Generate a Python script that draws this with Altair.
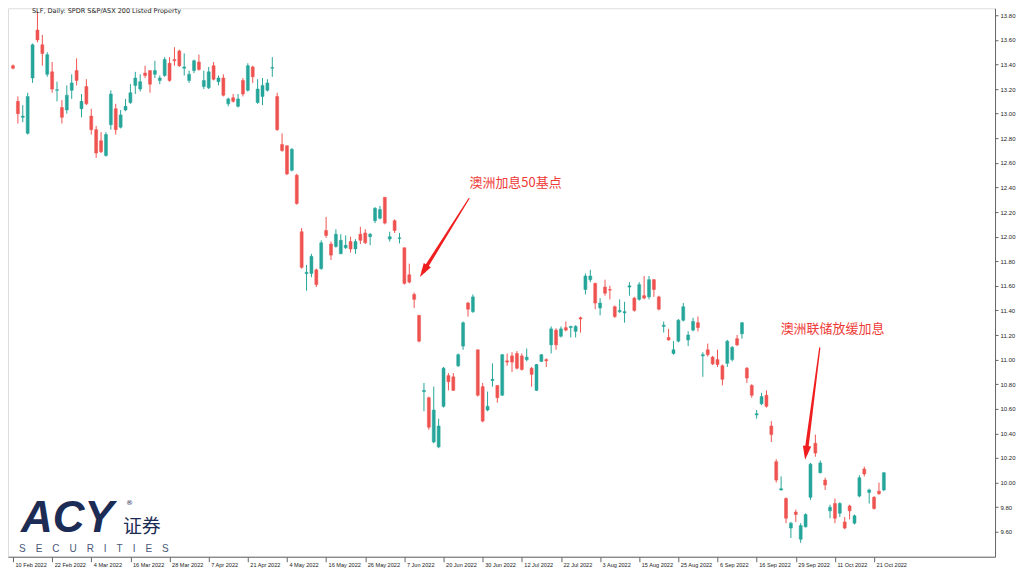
import altair as alt
import pandas as pd

# ---- OHLC values (trading-day index 0 = 10 Feb 2022) ----
opens = [13.39,
 13.10, 12.97, 12.84, 13.29, 13.68, 13.56, 13.32, 13.34, 13.19, 13.05,
 13.03, 13.19, 13.35, 13.04, 13.22, 12.98, 12.87, 12.78, 12.66, 12.91,
 13.04, 12.89, 13.03, 13.09, 13.23, 13.20, 13.33, 13.35, 13.32, 13.27,
 13.31, 13.41, 13.44, 13.51, 13.37, 13.27, 13.35, 13.42, 13.22, 13.21,
 13.39, 13.26, 13.29, 13.08, 13.13, 13.06, 13.27, 13.19, 13.38, 13.09,
 13.14, 13.19, 13.37, 13.14, 12.75, 12.74, 12.54, 12.50, 12.04, 11.70,
 11.70, 11.73, 11.74, 12.05, 11.94, 11.92, 11.86, 11.91, 11.96, 11.90,
 12.02, 12.03, 12.00, 12.13, 12.15, 12.32, 11.98, 12.13, 11.985, 11.91,
 11.69, 11.53, 11.36, 10.74, 10.69, 10.33, 10.29, 10.62, 10.87, 10.86,
 10.95, 11.11, 11.46, 11.39, 11.08, 10.78, 10.59, 10.83, 10.79, 10.71,
 10.99, 11.03, 11.05, 11.03, 11.00, 10.93, 10.75, 10.985, 11.00, 11.12,
 11.24, 11.19, 11.26, 11.26, 11.23, 11.34, 11.57, 11.65, 11.62, 11.42,
 11.59, 11.57, 11.43, 11.39, 11.38, 11.59, 11.50, 11.49, 11.52, 11.51,
 11.65, 11.51, 11.27, 11.18, 11.05, 11.15, 11.32, 11.16, 11.24, 11.30,
 11.03, 11.08, 11.02, 11.00, 10.95, 10.97, 11.00, 11.17, 11.21, 10.93,
 10.79, 10.55, 10.64, 10.71, 10.46, 10.17, 9.94, 9.87, 9.63, 9.76,
 9.54, 9.64, 9.88, 10.32, 10.08, 10.02, 9.77, 9.83, 9.75, 9.68,
 9.81, 9.67, 9.89, 10.11, 9.92, 9.88, 9.93, 9.94]
highs = [13.40,
 13.14, 13.07, 13.17, 13.57, 13.83, 13.64, 13.50, 13.42, 13.26, 13.11,
 13.23, 13.32, 13.45, 13.16, 13.28, 13.04, 12.90, 12.85, 12.85, 13.19,
 13.08, 13.03, 13.12, 13.24, 13.34, 13.32, 13.39, 13.35, 13.43, 13.31,
 13.46, 13.46, 13.54, 13.52, 13.49, 13.35, 13.44, 13.48, 13.35, 13.38,
 13.42, 13.31, 13.32, 13.13, 13.16, 13.16, 13.29, 13.41, 13.39, 13.28,
 13.29, 13.28, 13.46, 13.17, 12.84, 12.74, 12.72, 12.51, 12.07, 11.77,
 11.86, 11.74, 11.97, 12.16, 11.96, 12.06, 12.02, 12.01, 12.00, 11.98,
 12.08, 12.06, 12.03, 12.24, 12.25, 12.32, 12.04, 12.14, 12.03, 11.91,
 11.78, 11.545, 11.36, 10.81, 10.70, 10.78, 10.52, 10.94, 10.89, 10.89,
 11.05, 11.31, 11.47, 11.53, 11.08, 10.81, 10.74, 10.97, 10.79, 11.045,
 11.05, 11.06, 11.07, 11.05, 11.09, 10.94, 10.965, 11.045, 11.01, 11.27,
 11.255, 11.27, 11.31, 11.275, 11.28, 11.35, 11.70, 11.73, 11.625, 11.50,
 11.65, 11.60, 11.44, 11.49, 11.47, 11.63, 11.51, 11.63, 11.68, 11.68,
 11.655, 11.52, 11.31, 11.25, 11.15, 11.33, 11.46, 11.23, 11.34, 11.35,
 11.06, 11.13, 11.03, 11.08, 10.96, 11.16, 11.11, 11.20, 11.305, 10.94,
 10.80, 10.59, 10.73, 10.75, 10.50, 10.19, 10.05, 9.88, 9.68, 9.78,
 9.67, 9.75, 10.16, 10.39, 10.18, 10.04, 9.82, 9.87, 9.84, 9.72,
 9.82, 9.74, 10.06, 10.13, 9.95, 9.89, 10.00, 10.085]
lows = [13.36,
 12.92, 12.93, 12.83, 13.25, 13.58, 13.39, 13.30, 13.17, 13.10, 12.92,
 13.00, 13.12, 13.23, 12.97, 13.07, 12.83, 12.64, 12.68, 12.65, 12.87,
 12.83, 12.88, 13.02, 13.08, 13.16, 13.18, 13.29, 13.17, 13.29, 13.24,
 13.30, 13.26, 13.39, 13.38, 13.31, 13.25, 13.33, 13.35, 13.20, 13.20,
 13.27, 13.23, 13.14, 13.06, 13.09, 13.05, 13.14, 13.18, 13.25, 13.08,
 13.07, 13.18, 13.30, 12.86, 12.69, 12.50, 12.53, 12.26, 11.74, 11.56,
 11.67, 11.59, 11.73, 11.99, 11.81, 11.91, 11.86, 11.90, 11.87, 11.86,
 11.94, 11.94, 11.93, 12.11, 12.14, 12.10, 11.96, 12.03, 11.945, 11.61,
 11.62, 11.42, 11.14, 10.58, 10.43, 10.32, 10.28, 10.61, 10.75, 10.745,
 10.94, 11.08, 11.35, 11.38, 10.70, 10.49, 10.58, 10.78, 10.65, 10.705,
 10.95, 10.90, 10.92, 10.91, 10.985, 10.78, 10.745, 10.98, 10.94, 11.05,
 11.08, 11.18, 11.23, 11.18, 11.18, 11.22, 11.53, 11.63, 11.41, 11.36,
 11.52, 11.49, 11.34, 11.38, 11.30, 11.52, 11.39, 11.48, 11.49, 11.49,
 11.51, 11.40, 11.22, 11.155, 11.04, 11.14, 11.31, 11.11, 11.23, 11.23,
 10.86, 11.025, 10.955, 10.94, 10.79, 10.94, 10.985, 11.11, 11.17, 10.81,
 10.69, 10.52, 10.63, 10.61, 10.33, 10.00, 9.935, 9.67, 9.55, 9.68,
 9.51, 9.635, 9.86, 10.21, 10.075, 9.94, 9.71, 9.67, 9.72, 9.62,
 9.70, 9.66, 9.88, 10.05, 9.83, 9.78, 9.90, 9.93]
closes = [13.37,
 13.00, 12.98, 13.14, 13.56, 13.60, 13.49, 13.48, 13.20, 13.195, 12.97,
 13.15, 13.25, 13.27, 13.10, 13.08, 12.87, 12.68, 12.69, 12.83, 13.16,
 12.87, 12.99, 13.06, 13.17, 13.29, 13.26, 13.31, 13.24, 13.35, 13.29,
 13.44, 13.27, 13.43, 13.39, 13.38, 13.32, 13.43, 13.36, 13.27, 13.34,
 13.28, 13.29, 13.15, 13.12, 13.10, 13.12, 13.16, 13.39, 13.30, 13.20,
 13.23, 13.25, 13.375, 12.87, 12.70, 12.51, 12.71, 12.27, 11.75, 11.71,
 11.84, 11.61, 11.95, 12.01, 11.85, 12.02, 11.97, 11.93, 11.90, 11.96,
 11.97, 11.95, 12.02, 12.23, 12.22, 12.11, 12.00, 12.05, 11.99, 11.62,
 11.63, 11.49, 11.15, 10.75, 10.45, 10.59, 10.46, 10.93, 10.82, 10.75,
 11.04, 11.30, 11.41, 11.51, 10.71, 10.50, 10.62, 10.84, 10.69, 11.04,
 10.98, 10.98, 10.93, 10.92, 11.02, 10.88, 10.96, 11.04, 10.99, 11.25,
 11.12, 11.25, 11.24, 11.27, 11.27, 11.33, 11.68, 11.68, 11.46, 11.46,
 11.54, 11.565, 11.35, 11.40, 11.39, 11.60, 11.40, 11.61, 11.50, 11.65,
 11.57, 11.41, 11.28, 11.16, 11.08, 11.32, 11.43, 11.20, 11.31, 11.26,
 11.04, 11.04, 10.965, 10.96, 10.84, 11.15, 11.10, 11.12, 11.30, 10.85,
 10.71, 10.56, 10.70, 10.62, 10.39, 10.02, 9.95, 9.71, 9.67, 9.74,
 9.65, 9.74, 10.15, 10.24, 10.16, 9.98, 9.80, 9.71, 9.83, 9.63,
 9.77, 9.73, 10.04, 10.07, 9.94, 9.79, 9.91, 10.08]

tick_labels = ["10 Feb 2022", "22 Feb 2022", "4 Mar 2022", "16 Mar 2022", "28 Mar 2022",
               "7 Apr 2022", "21 Apr 2022", "4 May 2022", "16 May 2022", "26 May 2022",
               "7 Jun 2022", "20 Jun 2022", "30 Jun 2022", "12 Jul 2022", "22 Jul 2022",
               "3 Aug 2022", "15 Aug 2022", "25 Aug 2022", "6 Sep 2022", "16 Sep 2022",
               "29 Sep 2022", "11 Oct 2022", "21 Oct 2022"]
price_ticks = [9.6, 9.8, 10.0, 10.2, 10.4, 10.6, 10.8, 11.0, 11.2, 11.4, 11.6,
               11.8, 12.0, 12.2, 12.4, 12.6, 12.8, 13.0, 13.2, 13.4, 13.6, 13.8]

# annotations (index, price)
note_text = ["澳洲加息50基点", "澳洲联储放缓加息"]
note_idx = [93.3, 156.9]
note_price = [12.44, 11.25]
arrow_tail_idx = [93.2, 164.9]
arrow_tail_price = [12.31, 11.095]
arrow_head_idx = [83.93, 162.1]
arrow_head_price = [11.72, 10.241]
arrow_angle = [212, 188]

df = pd.DataFrame({"i": list(range(len(opens))), "o": opens, "h": highs,
                   "l": lows, "c": closes})
df["dir"] = ["up" if c >= o else "down" for o, c in zip(df.o, df.c)]

W, H = 988, 549
xs = alt.Scale(domain=[0, 199.7], nice=False, zero=False)
ys = alt.Scale(domain=[9.397, 13.857], nice=False, zero=False)
col = alt.Color("dir:N", scale=alt.Scale(domain=["up", "down"],
                                         range=["#26a69a", "#ef5350"]), legend=None)

label_expr = "[" + ",".join("'%s'" % s for s in tick_labels) + "][round(datum.value/8)]"
x_axis = alt.Axis(values=[8 * k for k in range(len(tick_labels))], labelExpr=label_expr,
                  labelAlign="left", labelBaseline="top", labelOffset=2, labelPadding=1,
                  labelFontSize=5.6, labelFont="Liberation Sans", labelColor="#222",
                  tickSize=5, tickColor="#666", domainColor="#666", grid=False,
                  title=None, labelOverlap=False, labelFlush=False)
y_axis = alt.Axis(orient="right", values=price_ticks, format=".2f", labelFontSize=6,
                  labelFont="Liberation Sans", labelColor="#222", tickSize=3,
                  tickColor="#666", domainColor="#666", labelPadding=2, grid=False,
                  title=None, labelOverlap=False, labelFlush=False)


def X(field):
    return alt.X(field, scale=xs, axis=x_axis)


def Y(field):
    return alt.Y(field, scale=ys, axis=y_axis)


base = alt.Chart(df)
wicks = base.mark_rule(strokeWidth=1, clip=True).encode(
    x=X("i:Q"), y=Y("l:Q"), y2="h:Q", color=col)
bodies = base.mark_bar(size=3, clip=True, strokeWidth=0.5).encode(
    x=X("i:Q"), y=Y("o:Q"), y2="c:Q", color=col, stroke=col)

# arrows
trail_rows = []
for k in range(2):
    trail_rows.append({"a": k, "i": arrow_tail_idx[k], "p": arrow_tail_price[k], "w": 1.2})
    trail_rows.append({"a": k, "i": arrow_head_idx[k], "p": arrow_head_price[k], "w": 3.6})
trails = alt.Chart(pd.DataFrame(trail_rows)).mark_trail(color="#f01e1e").encode(
    x=X("i:Q"), y=Y("p:Q"), detail="a:N",
    size=alt.Size("w:Q", scale=None, legend=None),
)
heads = alt.Chart(pd.DataFrame({"i": arrow_head_idx, "p": arrow_head_price,
                                "ang": arrow_angle})).mark_point(
    shape="M0,-1L0.6,1L-0.6,1Z", size=196, filled=True, color="#f01e1e", opacity=1,
    strokeWidth=0).encode(
    x=X("i:Q"), y=Y("p:Q"), angle=alt.Angle("ang:Q", scale=None),
)
notes = alt.Chart(pd.DataFrame({"t": note_text, "i": note_idx, "p": note_price})).mark_text(
    align="left", baseline="middle", font="Noto Sans CJK SC", fontSize=13,
    color="#ee3b37").encode(x=X("i:Q"), y=Y("p:Q"), text="t:N")


def label(txt, x, y, **kw):
    return alt.Chart(pd.DataFrame({"t": [txt]})).mark_text(**kw).encode(
        x=alt.value(x), y=alt.value(y), text="t:N")


title_txt = label("SLF, Daily:  SPDR S&P/ASX 200 Listed Property", 24, 3,
                  align="left", baseline="middle", fontSize=6.5,
                  font="DejaVu Sans", color="#222")
logo_acy = label("ACY", 13, 511, align="left", baseline="middle", fontSize=44,
                 fontWeight="bold", fontStyle="italic", font="Liberation Sans",
                 color="#1c2c55")
logo_cn = label("证券", 115, 519, align="left", baseline="middle", fontSize=19,
                font="Noto Sans CJK SC", color="#1c2c55")
logo_reg = label("®", 118, 495, align="left", baseline="middle", fontSize=7,
                 font="DejaVu Sans", color="#1c2c55")
logo_sec = label("S\u2003E\u2003C\u2003U\u2003R\u2003I\u2003T\u2003I\u2003E\u2003S", 11, 541,
                 align="left", baseline="middle", fontSize=10,
                 font="Liberation Sans", color="#4a5878")

chart = alt.layer(
    wicks, bodies, trails, heads, notes,
    title_txt, logo_acy, logo_cn, logo_reg, logo_sec,
).properties(width=W, height=H, padding=0).configure_view(
    stroke="#9a9a9a", strokeWidth=1
).configure_axisY(labelOverlap=False).configure(background="white")

chart.save("out.html", embed_options={"renderer": "svg", "actions": False})
